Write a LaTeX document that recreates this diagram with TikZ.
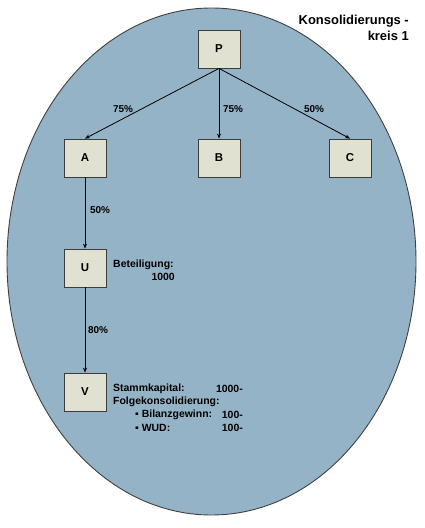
\documentclass[tikz,border=0pt]{standalone}
\usepackage{fontspec}
\setmainfont{Liberation Sans}
\usetikzlibrary{arrows.meta,positioning}
\definecolor{kreis}{HTML}{95B3C7}
\definecolor{firmfill}{HTML}{E1E1D1}
\definecolor{firmline}{HTML}{3C3C3C}

\begin{document}
\begin{tikzpicture}[font=\bfseries\fontsize{10.5}{12}\selectfont,x=1bp,y=-1bp,
  firm/.style={draw=firmline,fill=firmfill,line width=.8bp,minimum width=42bp,minimum height=38bp,inner sep=0pt,font=\bfseries\fontsize{11.5}{13}\selectfont},
  link/.style={-{Stealth[length=5bp,width=4bp]},line width=.8bp},
  pct/.style={font=\bfseries\fontsize{10}{12}\selectfont,inner sep=0pt}]
\useasboundingbox (0,0) rectangle (424,528);
\fill[kreis,draw=black!75,line width=.9bp] (211.5,261.5) ellipse [x radius=204.5, y radius=253.5];
\node[anchor=east,align=right,inner sep=0pt,font=\bfseries\fontsize{13}{16}\selectfont] (titel) at (409,28) {Konsolidierungs -\\kreis 1};
% Gesellschaften
\node[firm] (P) at (219,49) {P};
\node[firm] (A) at (85,158) {A};
\node[firm] (B) at (219,158) {B};
\node[firm] (C) at (350,158) {C};
\node[firm] (U) at (85,268) {U};
\node[firm] (V) at (85,392) {V};
\draw[link] (P.south) -- (A.north); \draw[link] (P.south) -- (B.north);
\draw[link] (P.south) -- (C.north);
\draw[link] (A.south) -- (U.north); \draw[link] (U.south) -- (V.north);
\node[pct] (pA) at (123,109) {75\%}; \node[pct] (pB) at (233,109) {75\%};
\node[pct] (pC) at (314,109) {50\%};
\node[pct] (pU) at (100,210) {50\%}; \node[pct] (pV) at (98,330) {80\%};
% Werte
\node[anchor=west,inner sep=0pt] (bet) at (113,265) {Beteiligung:};
\node[anchor=east,inner sep=0pt] (betw) at (175,277) {1000};
\node[anchor=west,inner sep=0pt] (sk) at (113,389) {Stammkapital:};
\node[anchor=east,inner sep=0pt] (skw) at (243,389) {1000-};
\node[anchor=west,inner sep=0pt] (fk) at (113,402) {Folgekonsolidierung:};
\node[anchor=west,inner sep=0pt] (bg) at (135,415) {▪ Bilanzgewinn:};
\node[anchor=east,inner sep=0pt] (bgw) at (243,415) {100-};
\node[anchor=west,inner sep=0pt] (wud) at (135,428) {▪ WUD:};
\node[anchor=east,inner sep=0pt] (wudw) at (243,428) {100-};
\end{tikzpicture}
\end{document}
